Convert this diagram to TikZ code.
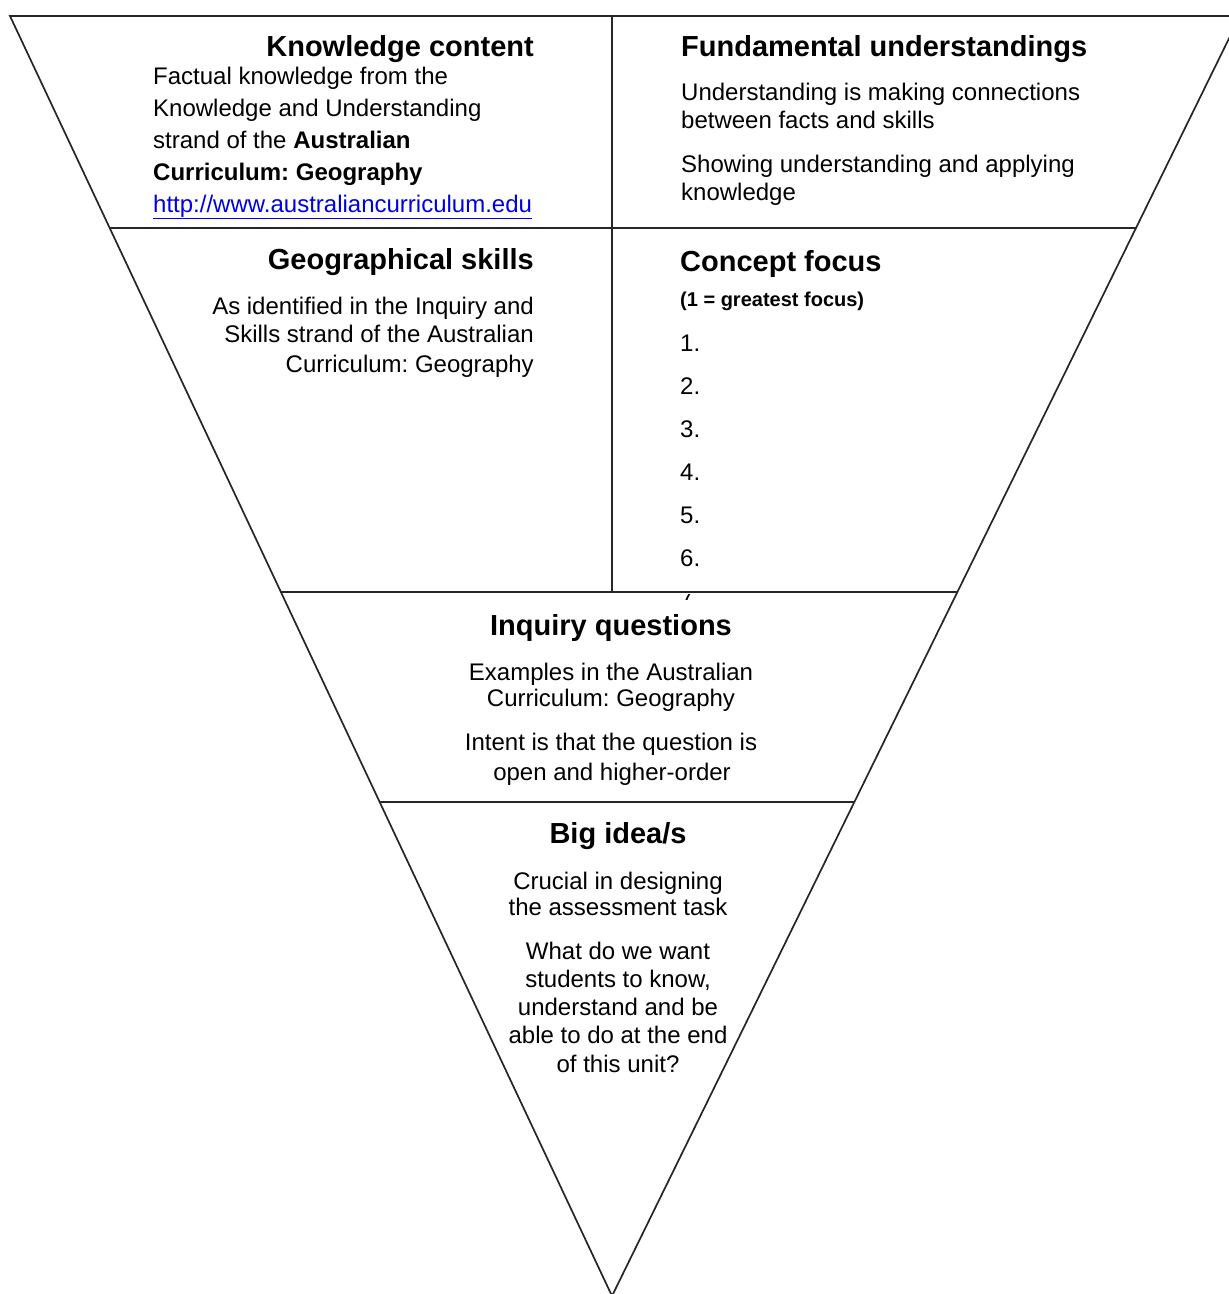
\documentclass[tikz,border=0pt]{standalone}
\usepackage{fontspec}
\setmainfont{Liberation Sans}
\usetikzlibrary{calc}
\frenchspacing
\begin{document}
\begin{tikzpicture}[x=1pt,y=-1pt,
  edge/.style={line width=1.7pt, draw=black!85, line cap=round},
  head/.style={font=\bfseries\fontsize{29}{34}\selectfont, inner sep=0pt},
  body/.style={font=\fontsize{24}{28}\selectfont, inner sep=0pt},
  smallb/.style={font=\bfseries\fontsize{20}{24}\selectfont, inner sep=0pt},
  link/.style={body, text=blue!90!black}
]
\useasboundingbox (0,0) rectangle (1229,1294);
\fill[white] (0,0) rectangle (1229,1294);
\clip (0,0) rectangle (1229,1294);

% frame
\coordinate (TL) at (10,16);
\coordinate (TR) at (1240,16);
\coordinate (AP) at (612,1296);
\coordinate (L1) at ($(TL)!0.1656!(AP)$);
\coordinate (R1) at ($(TR)!0.1656!(AP)$);
\coordinate (L2) at ($(TL)!0.45!(AP)$);
\coordinate (R2) at ($(TR)!0.45!(AP)$);
\coordinate (L3) at ($(TL)!0.6141!(AP)$);
\coordinate (R3) at ($(TR)!0.6141!(AP)$);
\coordinate (VT) at (612,16);
\coordinate (VB) at (612,592);

\draw[edge] (TL) -- (TR) -- (AP) -- cycle;
\draw[edge] (L1) -- (R1);
\draw[edge] (L2) -- (R2);
\draw[edge] (L3) -- (R3);
\draw[edge] (VT) -- (VB);

% Knowledge content
\node[head, anchor=base east] (kc) at (534,56) {Knowledge content};
\node[body, anchor=base west] (kc1) at (153,84) {Factual knowledge from the};
\node[body, anchor=base west] (kc2) at (153,116) {Knowledge and Understanding};
\node[body, anchor=base west] (kc3) at (153,148) {strand of the \textbf{Australian}};
\node[body, anchor=base west] (kc4) at (153,180) {\textbf{Curriculum: Geography}};
\node[link, anchor=base west] (kc5) at (153,212) {\underline{http://www.australiancurriculum.edu}};

% Fundamental understandings
\node[head, anchor=base west] (fu) at (681,56) {Fundamental understandings};
\node[body, anchor=base west] (fu1) at (681,100) {Understanding is making connections};
\node[body, anchor=base west] (fu2) at (681,128) {between facts and skills};
\node[body, anchor=base west] (fu3) at (681,172) {Showing understanding and applying};
\node[body, anchor=base west] (fu4) at (681,200) {knowledge};

% Geographical skills
\node[head, anchor=base east] (gs) at (534,269) {Geographical skills};
\node[body, anchor=base east] (gs1) at (534,314) {As identified in the Inquiry and};
\node[body, anchor=base east] (gs2) at (534,342) {Skills strand of the Australian};
\node[body, anchor=base east] (gs3) at (534,372) {Curriculum: Geography};

% Concept focus
\node[head, anchor=base west] (cf) at (680,271) {Concept focus};
\node[smallb, anchor=base west] (cf0) at (680,306) {(1 = greatest focus)};
\node[body, anchor=base west] (c1) at (680,351) {1.};
\node[body, anchor=base west] (c2) at (680,394) {2.};
\node[body, anchor=base west] (c3) at (680,437) {3.};
\node[body, anchor=base west] (c4) at (680,480) {4.};
\node[body, anchor=base west] (c5) at (680,523) {5.};
\node[body, anchor=base west] (c6) at (680,566) {6.};
\begin{scope}
  \clip (670,594) rectangle (710,599);
  \node[body, anchor=base west] (c7) at (680,606) {7.};
\end{scope}

% Inquiry questions
\node[head, anchor=base] (iq) at (611,635) {Inquiry questions};
\node[body, anchor=base] (iq1) at (611,680) {Examples in the Australian};
\node[body, anchor=base] (iq2) at (611,706) {Curriculum: Geography};
\node[body, anchor=base] (iq3) at (611,750) {Intent is that the question is};
\node[body, anchor=base] (iq4) at (612,780) {open and higher-order};

% Big idea/s
\node[head, anchor=base] (bi) at (618,843) {Big idea/s};
\node[body, anchor=base] (bi1) at (618,889) {Crucial in designing};
\node[body, anchor=base] (bi2) at (618,915) {the assessment task};
\node[body, anchor=base] (bi3) at (618,959) {What do we want};
\node[body, anchor=base] (bi4) at (618,987) {students to know,};
\node[body, anchor=base] (bi5) at (618,1015) {understand and be};
\node[body, anchor=base] (bi6) at (618,1043) {able to do at the end};
\node[body, anchor=base] (bi7) at (618,1072) {of this unit?};
\end{tikzpicture}
\end{document}
